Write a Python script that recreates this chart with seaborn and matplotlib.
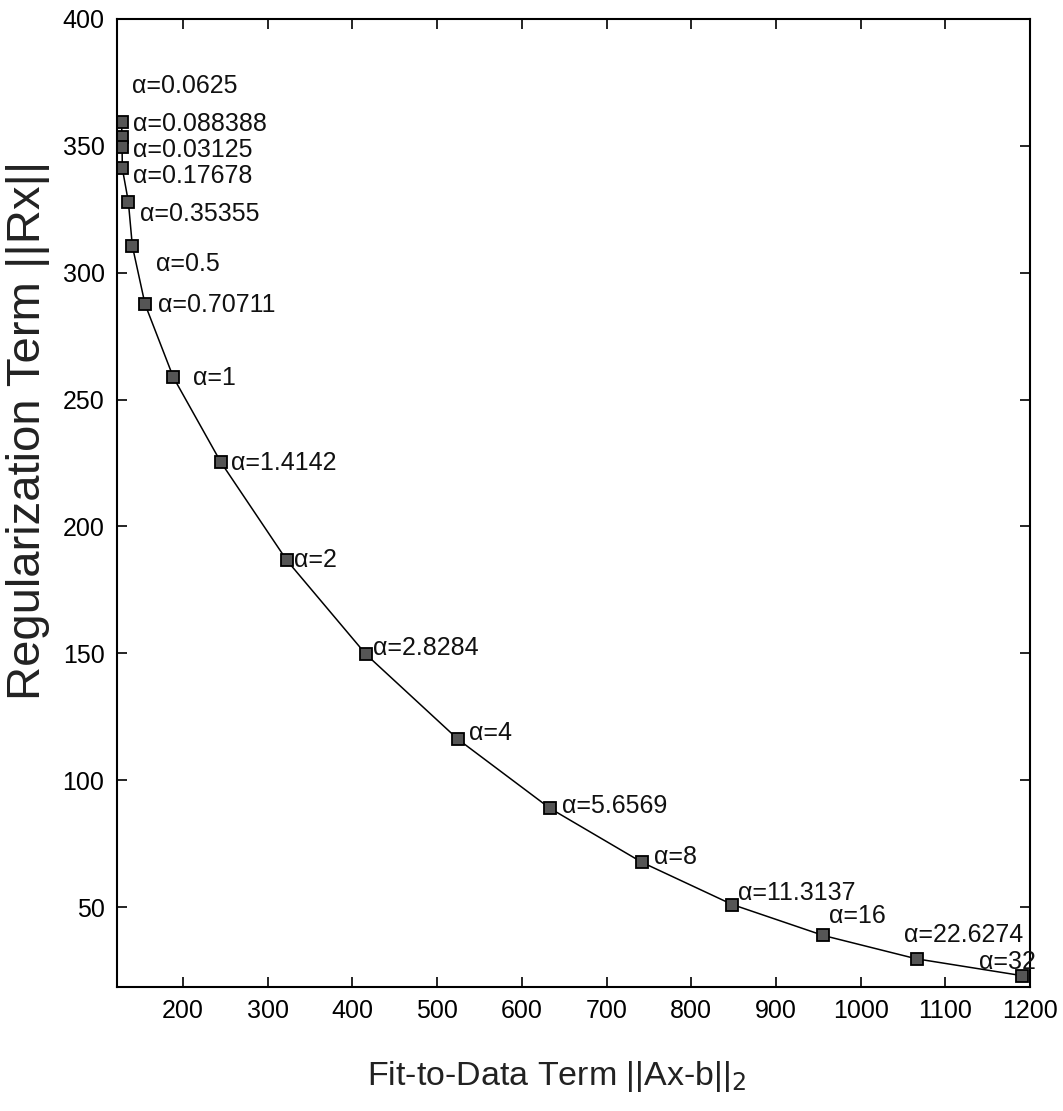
import matplotlib
matplotlib.use("Agg")
import matplotlib.pyplot as plt
import seaborn as sns
import pandas as pd

# Regularization parameter for each solve
alpha_labels = ["0.03125", "0.0625", "0.088388", "0.17678", "0.35355", "0.5",
                "0.70711", "1", "1.4142", "2", "2.8284", "4", "5.6569", "8",
                "11.3137", "16", "22.6274", "32"]
# Residual norm ||Ax-b||_2 and regularization norm ||Rx|| per alpha
fit_term = [127.5, 127.8, 128.0, 128.3, 135.4, 140.1, 155.1, 188.5, 244.5,
            322.4, 416.0, 524.7, 633.3, 742.0, 848.5, 956.0, 1066.0, 1190.0]
reg_term = [359.5, 353.3, 349.4, 341.1, 328.0, 310.6, 287.6, 258.8, 225.4,
            186.7, 149.6, 116.1, 88.9, 67.6, 51.0, 38.8, 29.6, 23.0]

x_ticks = [200, 300, 400, 500, 600, 700, 800, 900, 1000, 1100, 1200]
y_ticks = [50, 100, 150, 200, 250, 300, 350, 400]

# label placement (pixel offsets from each marker)
label_offsets = [(11, -28), (10, 51), (11, 23), (11, -8), (12, -12), (24, -18),
                 (13, -1), (20, -1), (10, -1), (7, 0), (7, 6), (11, 6), (12, 2),
                 (12, 5), (6, 12), (6, 19), (-13, 24), (-43, 14)]

sns.set_style("ticks")
plt.rcParams["font.family"] = ["Liberation Sans", "DejaVu Sans"]

df = pd.DataFrame({"fit": fit_term, "reg": reg_term, "alpha": alpha_labels})

fig = plt.figure(figsize=(10.63, 11.11), dpi=100)
ax = fig.add_axes([117 / 1063, 1 - 987 / 1111, (1030 - 117) / 1063, (987 - 19) / 1111])

sns.lineplot(data=df, x="fit", y="reg", sort=False, ax=ax, color="black",
             linewidth=1.1, marker="s", markersize=8, markerfacecolor="#555555",
             markeredgecolor="black", markeredgewidth=1.3)

for xv, yv, lab, (dx, dy) in zip(fit_term, reg_term, alpha_labels, label_offsets):
    ax.annotate(f"α={lab}", (xv, yv), xytext=(dx, dy), textcoords="offset pixels",
                ha="left", va="center", fontsize=18, color="#111111")

ax.set_xlim(122, 1200)
ax.set_ylim(18.5, 400)
ax.set_xticks(x_ticks)
ax.set_yticks(y_ticks)
ax.tick_params(direction="in", length=7, width=1.2, labelsize=18,
               top=True, right=True, pad=9, colors="black")
for sp in ax.spines.values():
    sp.set_linewidth(1.5)
    sp.set_color("black")

ax.set_xlabel(r"Fit-to-Data Term ||Ax-b||$_2$", fontsize=24.5, color="#222222")
ax.set_ylabel("Regularization Term ||Rx||", fontsize=34, color="#222222")
ax.xaxis.set_label_coords(0.481, -0.074)
ax.yaxis.set_label_coords(-0.073, 0.575)

fig.savefig("out.png", dpi=100, facecolor="white")
